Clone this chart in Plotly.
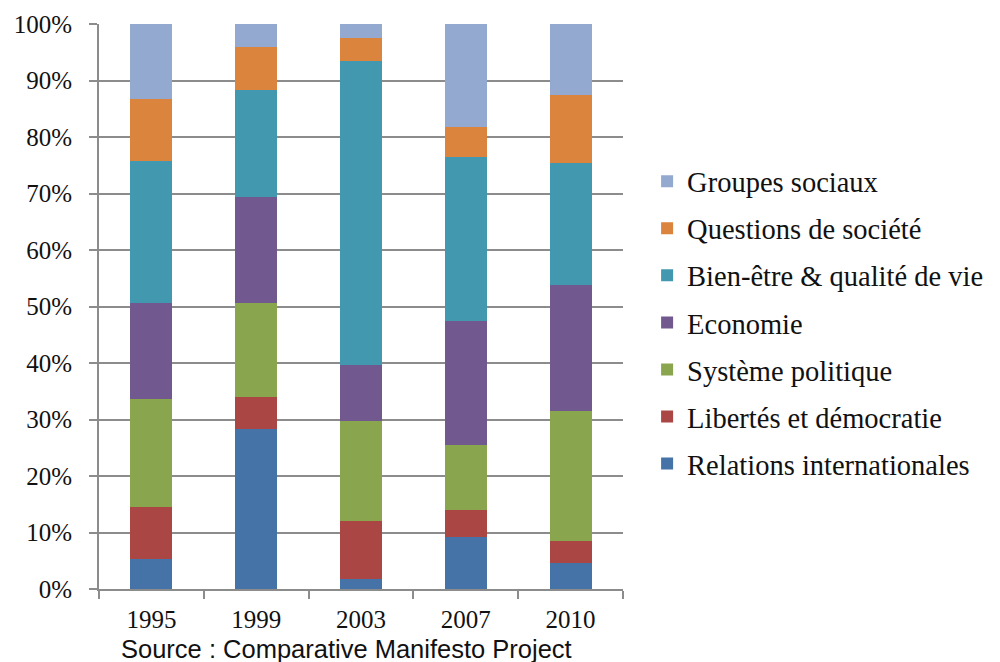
import plotly.graph_objects as go

years = ["1995", "1999", "2003", "2007", "2010"]
series_names = [
    "Relations internationales",
    "Libertés et démocratie",
    "Système politique",
    "Economie",
    "Bien-être & qualité de vie",
    "Questions de société",
    "Groupes sociaux",
]
relations = [5.3, 28.3, 1.8, 9.2, 4.6]
libertes = [9.2, 5.7, 10.3, 4.7, 3.9]
systeme = [19.1, 16.6, 17.6, 11.6, 23.0]
economie = [17.0, 18.7, 9.9, 21.9, 22.3]
bien_etre = [25.1, 19.1, 53.8, 29.0, 21.6]
questions = [11.0, 7.5, 4.2, 5.3, 12.0]
groupes = [13.3, 4.1, 2.4, 18.3, 12.6]
series_values = [relations, libertes, systeme, economie, bien_etre, questions, groupes]
colors = ["#4572A7", "#AA4643", "#89A54E", "#71588F", "#4198AF", "#DB843D", "#93A9CF"]
y_ticks = [0, 10, 20, 30, 40, 50, 60, 70, 80, 90, 100]
y_tick_text = [f"{v}%" for v in y_ticks]

fig = go.Figure()
n = len(series_names)
for i, (name, vals, col) in enumerate(zip(series_names, series_values, colors)):
    fig.add_trace(go.Bar(
        x=years, y=vals, name=name, legendgroup=name,
        legendrank=100 * (n - i),
        marker=dict(color=col, line=dict(width=0)),
    ))

serif = "Liberation Serif, Times New Roman, serif"
fig.update_layout(
    barmode="stack",
    barnorm="percent",
    bargap=0.6,
    width=992, height=654,
    margin=dict(l=91, r=377, t=16, b=73, autoexpand=False),
    plot_bgcolor="white",
    paper_bgcolor="white",
    showlegend=True,
    legend=dict(
        x=1.046, y=0.766, xanchor="left", yanchor="top",
        traceorder="grouped",
        tracegroupgap=7,
        font=dict(family=serif, size=28.5, color="#111111"),
        itemwidth=30,
    ),
    xaxis=dict(
        automargin=False,
        showline=True, linecolor="#8c8c8c", linewidth=2,
        ticks="outside", ticklen=8, tickcolor="#8c8c8c", tickwidth=2,
        tickson="boundaries",
        tickfont=dict(family=serif, size=25, color="#111111"),
        ticklabelstandoff=7,
    ),
    yaxis=dict(
        automargin=False,
        range=[0, 100],
        tickvals=y_ticks, ticktext=y_tick_text,
        showline=True, linecolor="#8c8c8c", linewidth=2,
        ticks="outside", ticklen=8, tickcolor="#8c8c8c", tickwidth=2,
        showgrid=True, gridcolor="#8c8c8c", gridwidth=2,
        tickfont=dict(family=serif, size=25, color="#111111"),
        ticklabelstandoff=12,
        zeroline=False,
    ),
    annotations=[dict(
        text="Source : Comparative Manifesto Project",
        xref="paper", yref="paper", x=0.473, y=-0.107,
        xanchor="center", yanchor="middle", showarrow=False,
        font=dict(family="Liberation Sans, Arial, sans-serif", size=25.5, color="#111111"),
    )],
)

fig.write_html("out.html")
